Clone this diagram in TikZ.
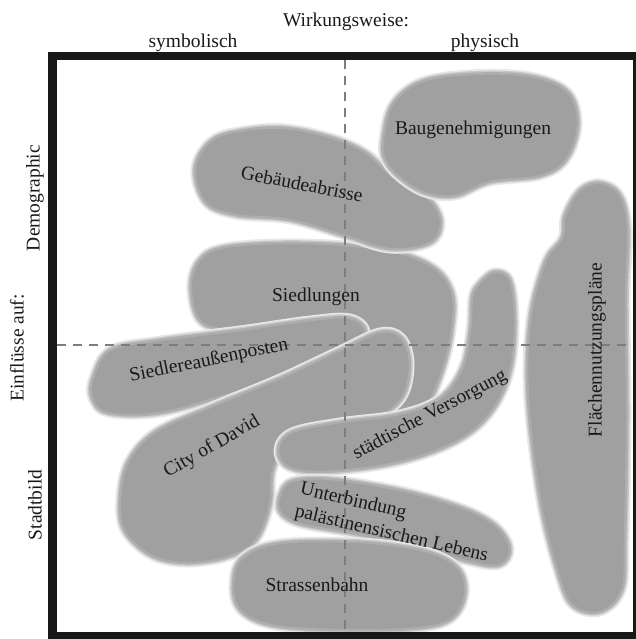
\documentclass[tikz,border=0pt]{standalone}
\usepackage{fontspec}
\setmainfont{Liberation Serif}
\definecolor{blobfill}{RGB}{160,160,160}
\definecolor{blobedgeA}{RGB}{174,174,174}
\definecolor{blobedgeB}{RGB}{200,200,200}
\definecolor{blobedgeC}{RGB}{232,232,232}
\definecolor{framec}{RGB}{24,24,24}
\definecolor{axisc}{RGB}{125,125,125}
\tikzset{
  blob/.style={fill=blobfill, draw=blobedgeA, line width=2.5pt, line join=round,
    preaction={draw=blobedgeC, line width=9pt, line join=round},
    preaction={draw=blobedgeB, line width=5.5pt, line join=round}},
  lbl/.style={inner sep=0pt, text=black!90},
  axisline/.style={draw=axisc, line width=1.4pt, dash pattern=on 9pt off 7pt},
}
\begin{document}
\begin{tikzpicture}[x=1pt,y=-1pt, font=\fontsize{19.5}{23.5}\selectfont]
\useasboundingbox (0,0) rectangle (636,639);

% blobs
% Siedlungen
\path[blob] plot[smooth cycle, tension=0.6] coordinates {(198,262) (225,247) (300,243) (380,249) (430,265) (452,292) (452,330) (442,372) (425,408) (400,418) (382,402) (372,350) (330,332) (260,330) (205,325) (191,292)};
% Gebaeudeabrisse
\path[blob] plot[smooth cycle, tension=0.6] coordinates {(195,168) (212,140) (245,130) (285,128) (330,137) (365,152) (395,178) (428,198) (441,222) (430,243) (390,249) (345,236) (290,220) (235,215) (205,202)};
% Baugenehmigungen
\path[blob] plot[smooth cycle, tension=0.6] coordinates {(383,140) (392,105) (420,82) (470,74) (530,76) (568,92) (578,125) (566,160) (540,176) (490,182) (455,196) (425,193) (400,178) (385,160)};
% Flaechennutzungsplaene
\path[blob] plot[smooth cycle, tension=0.6] coordinates {(565,215) (580,190) (600,183) (620,195) (628,230) (626,300) (627,420) (625,540) (622,590) (600,612) (572,605) (557,570) (540,500) (528,400) (530,320) (545,262) (562,238)};
% Siedlereaussenposten
\path[blob] plot[smooth cycle, tension=0.6] coordinates {(93,378) (110,350) (160,340) (240,330) (310,320) (350,318) (366,332) (350,350) (300,372) (230,394) (160,413) (108,413) (92,398)};
% City of David
\path[blob] plot[smooth cycle, tension=0.6] coordinates {(120,498) (128,462) (155,432) (210,407) (280,378) (340,350) (380,332) (402,338) (410,365) (402,398) (375,418) (325,432) (288,446) (273,470) (270,505) (256,540) (228,557) (185,563) (150,555) (124,530)};
% staedtische Versorgung
\path[blob] plot[smooth cycle, tension=0.6] coordinates {(478,285) (494,272) (510,280) (515,320) (511,368) (496,405) (470,433) (430,453) (380,466) (320,472) (288,467) (278,450) (292,432) (340,422) (400,414) (440,398) (462,368) (470,330) (472,298)};
% Unterbindung
\path[blob] plot[smooth cycle, tension=0.6] coordinates {(280,495) (292,481) (330,479) (400,490) (460,507) (495,525) (510,548) (500,565) (470,562) (410,545) (350,533) (300,524) (280,512)};
% Strassenbahn
\path[blob] plot[smooth cycle, tension=0.6] coordinates {(233,585) (242,558) (280,543) (360,542) (425,551) (458,568) (465,595) (450,620) (410,629) (330,630) (270,625) (240,610)};

% axes
\coordinate (vtop) at (345,60);
\coordinate (vbot) at (345,632);
\coordinate (hleft) at (57,345);
\coordinate (hright) at (633,345);
\draw[axisline] (vtop) -- (vbot);
\draw[axisline] (hleft) -- (hright);

% frame
\fill[framec] (48,52) rectangle (57,639);
\fill[framec] (48,52) rectangle (636,60);
\fill[framec] (48,632) rectangle (636,639);
\fill[framec] (633,52) rectangle (636,639);

% header labels
\node[lbl, anchor=base] (wirk) at (346,27) {Wirkungsweise:};
\node[lbl, anchor=base] (symb) at (193,48) {symbolisch};
\node[lbl, anchor=base] (phys) at (485,48) {physisch};
\node[lbl, rotate=90] (demo) at (35,198) {Demographic};
\node[lbl, rotate=90] (einfl) at (17,348) {Einflüsse auf:};
\node[lbl, rotate=90] (stadt) at (35,505) {Stadtbild};

% blob labels
\node[lbl] (baug) at (473,130) {Baugenehmigungen};
\node[lbl, rotate=-11] (gebd) at (302,184) {Gebäudeabrisse};
\node[lbl] (siedl) at (316,297) {Siedlungen};
\node[lbl, rotate=11.5] (sposten) at (209,361) {Siedlereaußenposten};
\node[lbl, rotate=30] (city) at (212,447) {City of David};
\node[lbl, rotate=28] (versorg) at (430,415) {städtische Versorgung};
\node[lbl, rotate=90] (flnp) at (597,350) {Flächennutzungspläne};
\node[lbl, rotate=-13, align=left] (unterb) at (394,523) {Unterbindung\\palästinensischen Lebens};
\node[lbl] (strb) at (317,585) {Strassenbahn};
\end{tikzpicture}
\end{document}
